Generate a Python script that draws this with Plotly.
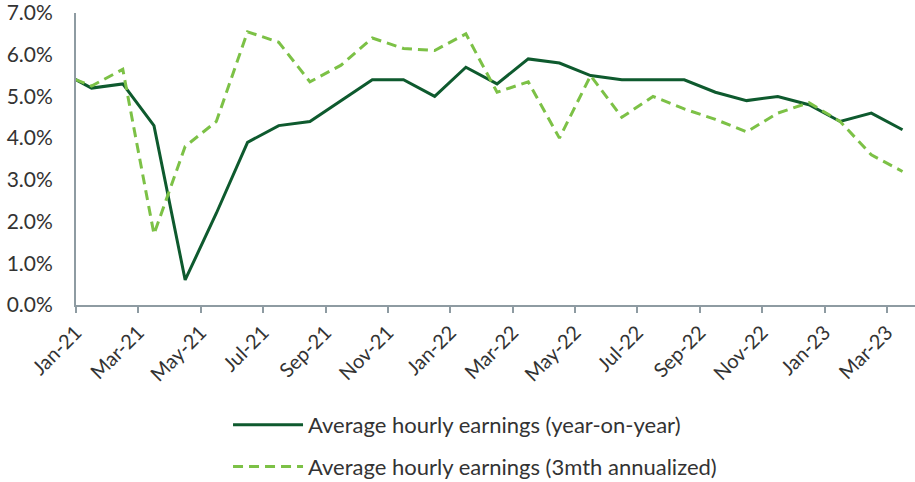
import plotly.graph_objects as go

months = ["Dec-20", "Jan-21", "Feb-21", "Mar-21", "Apr-21", "May-21", "Jun-21", "Jul-21", "Aug-21",
          "Sep-21", "Oct-21", "Nov-21", "Dec-21", "Jan-22", "Feb-22", "Mar-22", "Apr-22", "May-22",
          "Jun-22", "Jul-22", "Aug-22", "Sep-22", "Oct-22", "Nov-22", "Dec-22", "Jan-23", "Feb-23", "Mar-23"]

yoy = [5.6, 5.2, 5.3, 4.3, 0.6, 2.2, 3.9, 4.3, 4.4, 4.9, 5.4, 5.4, 5.0, 5.7, 5.3, 5.9, 5.8, 5.5,
       5.4, 5.4, 5.4, 5.1, 4.9, 5.0, 4.8, 4.4, 4.6, 4.2]
ann3m = [5.55, 5.25, 5.65, 1.7, 3.8, 4.4, 6.55, 6.3, 5.35, 5.75, 6.4, 6.15, 6.1, 6.5, 5.1, 5.35, 4.0, 5.5,
         4.5, 5.0, 4.7, 4.45, 4.15, 4.6, 4.85, 4.4, 3.6, 3.2]

tick_labels = ["Jan-21", "Mar-21", "May-21", "Jul-21", "Sep-21", "Nov-21", "Jan-22", "Mar-22",
               "May-22", "Jul-22", "Sep-22", "Nov-22", "Jan-23", "Mar-23"]

# months plotted at the middle of their month interval (Jan-21 interval starts at 0)
xpos = [i - 0.5 for i in range(len(months))]
tickvals = [months.index(t) - 1 for t in tick_labels]
ytickvals = [0, 1, 2, 3, 4, 5, 6, 7]

FONT = "Lato"
AXIS = "#8E9BA2"
TXT = "#333333"

fig = go.Figure()
fig.add_trace(go.Scatter(
    x=xpos, y=yoy, mode="lines", name="Average hourly earnings (year-on-year)",
    line=dict(color="#0E5A2E", width=3), legendgroup="a", customdata=months,
))
fig.add_trace(go.Scatter(
    x=xpos, y=ann3m, mode="lines", name="Average hourly earnings (3mth annualized)",
    line=dict(color="#7CC146", width=3, dash="10px,6px"), legendgroup="b", customdata=months,
))

fig.update_layout(
    width=915, height=482,
    margin=dict(l=76, r=0, t=13, b=177, autoexpand=False),
    paper_bgcolor="white", plot_bgcolor="white",
    font=dict(family=FONT, size=20, color=TXT),
    showlegend=True,
    legend=dict(
        orientation="v", x=0.4756, xanchor="center", y=-0.339, yanchor="top",
        font=dict(family=FONT, size=22, color=TXT),
        traceorder="grouped", tracegroupgap=10, itemwidth=70,
        bgcolor="rgba(0,0,0,0)",
    ),
)
fig.update_xaxes(
    range=[0, 26.9], tickmode="array", tickvals=tickvals, ticktext=tick_labels,
    tickangle=-45, ticks="outside", ticklen=6, tickwidth=2, tickcolor=AXIS,
    showline=True, linecolor=AXIS, linewidth=2, showgrid=False, zeroline=False,
    automargin=False,
    tickfont=dict(family=FONT, size=20, color=TXT),
)
fig.update_yaxes(
    range=[0, 7], tickmode="array",
    tickvals=ytickvals, ticktext=[f"{v:.1f}%" for v in ytickvals],
    showline=True, linecolor=AXIS, linewidth=2, showgrid=False, zeroline=False,
    ticks="", ticklabelstandoff=17, automargin=False, ticklabeloverflow="allow",
    tickfont=dict(family=FONT, size=21, color=TXT),
)

fig.write_html("out.html", config={"displayModeBar": False},
               post_script="document.body.style.margin='0';")
